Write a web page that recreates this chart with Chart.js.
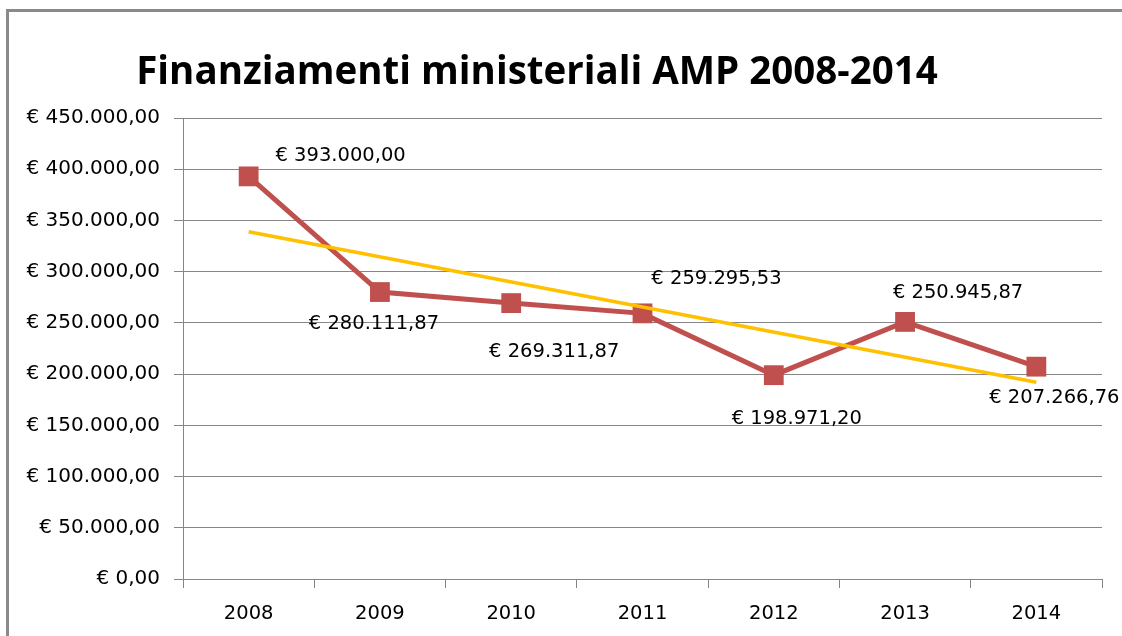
<!DOCTYPE html>
<html>
<head>
<meta charset="utf-8">
<script src="https://cdn.jsdelivr.net/npm/chart.js@4.4.1/dist/chart.umd.min.js"></script>
<style>
  html, body { margin: 0; padding: 0; background: #fff; overflow: hidden; }
  #wrap { position: relative; width: 1122px; height: 636px; }
  #frame { position: absolute; left: 6px; top: 9px; width: 1200px; height: 700px;
           border-left: 3px solid #8a8a8a; border-top: 3px solid #8a8a8a; box-sizing: border-box; }
  canvas { position: absolute; left: 0; top: 0; }
</style>
</head>
<body>
<div id="wrap">
  <div id="frame"></div>
  <canvas id="c" width="1122" height="636"></canvas>
</div>
<script>
const chartTitle = "Finanziamenti ministeriali AMP 2008-2014";
const years = ["2008", "2009", "2010", "2011", "2012", "2013", "2014"];
const funding = [393000.00, 280111.87, 269311.87, 259295.53, 198971.20, 250945.87, 207266.76];
// trend line end points (straight line 2008 -> 2014)
const trend = [339000, null, null, null, null, null, 192000];
const yTicks = [0, 50000, 100000, 150000, 200000, 250000, 300000, 350000, 400000, 450000];

const FONT = "'DejaVu Sans', sans-serif";
const TITLE_FONT = "'Open Sans', sans-serif";

function euro(v) {
  const fixed = Math.abs(v).toFixed(2);
  let [intPart, dec] = fixed.split(".");
  intPart = intPart.replace(/\B(?=(\d{3})+(?!\d))/g, ".");
  return "€ " + intPart + "," + dec;
}

// label placement (style only): offsets from the point, in pixels
const labelOffsets = [[92, -21], [-6, 31], [43, 48], [74, -35], [23, 43], [53, -30], [18, 30]];

const labelPlugin = {
  id: "pointLabels",
  afterDatasetsDraw(chart) {
    const meta = chart.getDatasetMeta(1);
    const ctx = chart.ctx;
    ctx.save();
    ctx.font = "19.5px " + FONT;
    ctx.fillStyle = "#000";
    ctx.textAlign = "center";
    ctx.textBaseline = "middle";
    meta.data.forEach((pt, i) => {
      const o = labelOffsets[i];
      ctx.fillText(euro(funding[i]), pt.x + o[0], pt.y + o[1] + 1);
    });
    ctx.restore();
  }
};

const titlePlugin = {
  id: "customTitle",
  afterDraw(chart) {
    const ctx = chart.ctx;
    ctx.save();
    ctx.font = "bold 38.5px " + TITLE_FONT;
    ctx.fillStyle = "#000";
    ctx.textAlign = "center";
    ctx.textBaseline = "middle";
    ctx.fillText(chartTitle, 537, 73);
    ctx.restore();
  }
};

new Chart(document.getElementById("c"), {
  type: "line",
  data: {
    labels: years,
    datasets: [
      {
        label: "Tendenza",
        data: trend,
        borderColor: "#FFC000",
        borderWidth: 3.5,
        pointRadius: 0,
        spanGaps: true,
        tension: 0,
        order: 0
      },
      {
        label: "Finanziamenti",
        data: funding,
        borderColor: "#C0504D",
        backgroundColor: "#C0504D",
        borderWidth: 5,
        pointStyle: "rect",
        pointRadius: 14,
        pointBorderWidth: 0,
        tension: 0,
        order: 1
      }
    ]
  },
  options: {
    responsive: false,
    animation: false,
    layout: { padding: { left: 10, right: 20, top: 118, bottom: 0 } },
    plugins: { legend: { display: false }, tooltip: { enabled: false }, title: { display: false } },
    scales: {
      x: {
        offset: true,
        grid: { offset: true, drawOnChartArea: false, tickLength: 9, color: "#868686", tickColor: "#868686" },
        border: { color: "#868686", width: 1 },
        ticks: { color: "#000", font: { family: FONT, size: 19.5 }, padding: 14 },
        afterFit(s) { s.height = 57; }
      },
      y: {
        min: 0,
        max: 450000,
        afterBuildTicks(s) { s.ticks = yTicks.map(v => ({ value: v })); },
        grid: { color: "#868686", tickLength: 9, tickColor: "#868686" },
        border: { color: "#868686", width: 1 },
        ticks: { color: "#000", font: { family: FONT, size: 20 }, padding: 14, callback: v => euro(v) },
        afterFit(s) { s.width = 173; }
      }
    }
  },
  plugins: [labelPlugin, titlePlugin]
});
</script>
</body>
</html>
